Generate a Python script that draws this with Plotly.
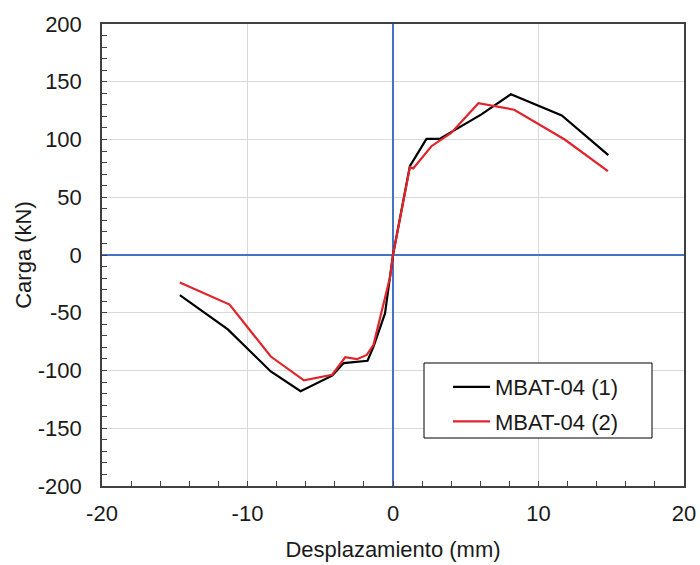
import plotly.graph_objects as go

# Series 1: MBAT-04 (1)
x1 = [-14.65, -11.35, -8.4, -6.35, -4.18, -3.39, -1.75, -1.34, -0.55, 0.0, 1.16, 2.3, 3.2, 4.0, 6.05, 8.1, 11.6, 14.8]
y1 = [-34.8, -64.4, -100.8, -118.0, -104.5, -93.6, -91.6, -79.3, -50.6, 0.0, 77.0, 100.5, 100.5, 106.5, 121.5, 139.2, 120.9, 86.4]

# Series 2: MBAT-04 (2)
x2 = [-14.65, -11.23, -8.4, -6.12, -4.18, -3.28, -2.48, -1.8, -1.34, -0.2, 0.0, 1.16, 1.39, 2.64, 4.0, 5.87, 8.33, 11.8, 14.77]
y2 = [-23.9, -42.9, -87.9, -108.5, -103.7, -88.5, -90.2, -86.5, -77.8, -19.0, 0.0, 76.0, 75.0, 94.2, 105.6, 131.4, 125.8, 100.0, 72.7]

names = ["MBAT-04 (1)", "MBAT-04 (2)"]

x_ticks = [-20, -10, 0, 10, 20]
x_ticktext = ["-20", "-10", "0", "10", "20"]
y_ticks = [-200, -150, -100, -50, 0, 50, 100, 150, 200]
y_ticktext = ["-200", "-150", "-100", "-50", "0", "50", "100", "150", "200"]

font = "Liberation Sans, Arial, sans-serif"
FS = 22

fig = go.Figure()
fig.add_trace(go.Scatter(x=x1, y=y1, mode="lines", name=names[0], legendgroup="a",
                         line=dict(color="#000000", width=2.2)))
fig.add_trace(go.Scatter(x=x2, y=y2, mode="lines", name=names[1], legendgroup="b",
                         line=dict(color="#E0242C", width=2.2)))

axis_common = dict(
    showgrid=True, gridcolor="#D9D9D9", gridwidth=1,
    zeroline=True, zerolinecolor="#4472C4", zerolinewidth=2,
    showline=True, linecolor="#404040", linewidth=1.5, mirror=True,
    ticks="inside", ticklen=5, tickcolor="#404040", tickwidth=1,
    tickfont=dict(family=font, size=FS, color="#1a1a1a"),
    automargin=False,
)

fig.update_xaxes(range=[-20, 20], tickmode="array", tickvals=x_ticks, ticktext=x_ticktext,
                 ticklabelstandoff=7,
                 minor=dict(dtick=2, tick0=0, ticks="inside", ticklen=5, tickcolor="#404040", showgrid=False),
                 title=dict(text="Desplazamiento (mm)", font=dict(family=font, size=FS, color="#1a1a1a"), standoff=16),
                 **axis_common)
fig.update_yaxes(range=[-200, 200], tickmode="array", tickvals=y_ticks, ticktext=y_ticktext,
                 ticklabelstandoff=14,
                 minor=dict(dtick=10, tick0=0, ticks="inside", ticklen=5, tickcolor="#404040", showgrid=False),
                 title=dict(text="Carga (kN)", font=dict(family=font, size=FS, color="#1a1a1a"), standoff=0),
                 **axis_common)

# legend frame
fig.add_shape(type="rect", xref="paper", yref="paper",
              x0=(424 - 102) / 582, x1=(652 - 102) / 582,
              y0=(486 - 438) / 462, y1=(486 - 363) / 462,
              line=dict(color="#000000", width=1), fillcolor="white", layer="above")

fig.update_layout(
    width=700, height=565,
    margin=dict(l=102, r=16, t=24, b=79),
    paper_bgcolor="white", plot_bgcolor="white",
    showlegend=True,
    legend=dict(x=(448 - 102) / 582, y=(486 - 366) / 462, xanchor="left", yanchor="top",
                borderwidth=0, bgcolor="rgba(0,0,0,0)", tracegroupgap=3, itemwidth=37,
                font=dict(family=font, size=FS, color="#1a1a1a")),
)

fig.write_html("out.html")
